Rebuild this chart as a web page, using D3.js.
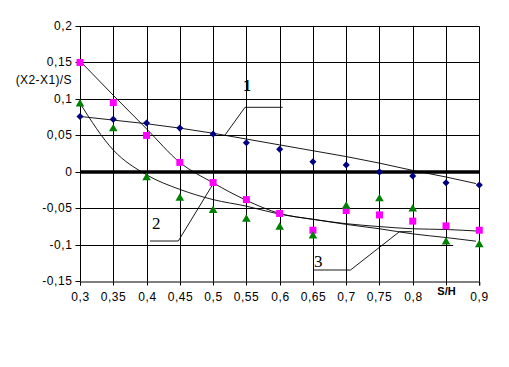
<!DOCTYPE html>
<html>
<head>
<meta charset="utf-8">
<script src="https://cdn.jsdelivr.net/npm/d3@7"></script>
<style>
  body { margin: 0; background: #fff; }
  svg { display: block; }
</style>
</head>
<body>
<svg width="509" height="367"></svg>
<script>
// S/H values
const xs = [0.3, 0.35, 0.4, 0.45, 0.5, 0.55, 0.6, 0.65, 0.7, 0.75, 0.8, 0.85, 0.9]
// measured points, (X2-X1)/S
const series1 = [0.076, 0.072, 0.067, 0.060, 0.052, 0.040, 0.031, 0.014, 0.0096, 0, -0.0055, -0.015, -0.018]
const series2 = [0.150, 0.095, 0.050, 0.013, -0.0146, -0.038, -0.057, -0.080, -0.053, -0.059, -0.0675, -0.074, -0.080]
const series3 = [0.093, 0.059, -0.008, -0.036, -0.053, -0.065, -0.076, -0.088, -0.047, -0.037, -0.051, -0.096, -0.100]
// trend curves
const trendX = [0.3, 0.35, 0.4, 0.45, 0.5, 0.55, 0.6, 0.65, 0.7, 0.75, 0.8, 0.85, 0.895]
const trend1 = [0.076, 0.071, 0.066, 0.060, 0.053, 0.045, 0.037, 0.029, 0.021, 0.012, 0.002, -0.007, -0.016]
const trend2 = [0.152, 0.105, 0.059, 0.013, -0.015, -0.039, -0.057, -0.065, -0.071, -0.075, -0.078, -0.079, -0.081]
const trend3 = [0.094, 0.030, -0.004, -0.024, -0.038, -0.047, -0.058, -0.065, -0.072, -0.078, -0.085, -0.090, -0.095]
const yTicks = [-0.15, -0.1, -0.05, 0, 0.05, 0.1, 0.15, 0.2]
const xTickLabels = ["0,3", "0,35", "0,4", "0,45", "0,5", "0,55", "0,6", "0,65", "0,7", "0,75", "0,8", "S/H", "0,9"]
const yTitle = "(X2-X1)/S"

const svg = d3.select("svg")
const x = d3.scaleLinear().domain([0.3, 0.9]).range([80, 479.3])
const y = d3.scaleLinear().domain([-0.15, 0.2]).range([281.3, 26])
const fmt = v => String(+v.toFixed(2)).replace(".", ",")
const snap = v => Math.round(v) + 0.5
const plotW = snap(x(0.9)) - snap(x(0.3))
const plotH = snap(y(-0.15)) - snap(y(0.2))

// grid drawn as long axis ticks
const gridX = svg.append("g").attr("transform", `translate(0,${snap(y(-0.15))})`)
    .call(d3.axisBottom(x).tickValues(xs.slice(1)).tickSize(-plotH).tickFormat(""))
const gridY = svg.append("g").attr("transform", `translate(${snap(x(0.3))},0)`)
    .call(d3.axisLeft(y).tickValues(yTicks.filter(d => d !== 0 && d !== -0.15)).tickSize(-plotW).tickFormat(""))
;[gridX, gridY].forEach(g => {
    g.select(".domain").remove()
    g.selectAll(".tick line").attr("stroke", "#000").attr("stroke-width", 1)
})
gridX.selectAll(".tick").attr("transform", d => `translate(${snap(x(d))},0)`)
gridY.selectAll(".tick").attr("transform", d => `translate(0,${snap(y(d))})`)
// the -0.1 rule stops short in the original
gridY.selectAll(".tick line").filter(d => d === -0.1).attr("x2", x(0.86) - x(0.3))

// axes
const axL = svg.append("g").attr("transform", `translate(${snap(x(0.3))},0)`)
    .call(d3.axisLeft(y).tickValues(yTicks).tickSize(5).tickFormat(fmt))
const axB = svg.append("g").attr("transform", `translate(0,${snap(y(-0.15))})`)
    .call(d3.axisBottom(x).tickValues(xs).tickSize(4).tickFormat((d, i) => xTickLabels[i]))
;[axL, axB].forEach(a => {
    a.select(".domain").attr("stroke", "#000")
    a.selectAll(".tick line").attr("stroke", "#000")
    a.selectAll("text").attr("fill", "#000").style("font-family", "Liberation Sans, Arial, sans-serif")
        .style("font-size", "12px").style("letter-spacing", "0.6px")
})
axL.select(".domain").attr("d", `M0,${y(-0.15)}V${y(0.2)}`)
axL.selectAll(".tick").attr("transform", d => `translate(0,${snap(y(d))})`)
axB.selectAll(".tick").attr("transform", d => `translate(${snap(x(d))},0)`)
axL.selectAll("text").attr("x", -8)
axB.selectAll("text").attr("y", 11)
axB.selectAll(".tick text").filter((d, i) => xTickLabels[i] === "S/H")
    .attr("y", 6).style("font-weight", "bold").style("font-size", "11px").style("letter-spacing", "0px")

// zero line
svg.append("path").attr("d", `M${x(0.3)},${y(0)}H${x(0.9)}`)
    .attr("fill", "none").attr("stroke", "#000").attr("stroke-width", 3.5)

svg.append("text").attr("x", 72).attr("y", 84).attr("text-anchor", "end")
    .style("font-family", "Liberation Sans, Arial, sans-serif").style("font-size", "12px")
    .style("letter-spacing", "0.4px").text(yTitle)

// trend curves
const curve = d3.line().x(d => x(d[0])).y(d => y(d[1])).curve(d3.curveMonotoneX)
;[trend1, trend2, trend3].forEach(t => {
    svg.append("path").datum(trendX.map((v, i) => [v, t[i]]))
        .attr("d", curve).attr("fill", "none").attr("stroke", "#000").attr("stroke-width", 0.9)
})

// curve labels with leaders
const leaders = svg.append("g").attr("fill", "none").attr("stroke", "#000").attr("stroke-width", 0.9)
leaders.append("path").attr("d", `M${x(0.5175)},${y(0.05)}L245,107.3H282.7`)
leaders.append("path").attr("d", `M150,241H178.3L${x(0.5)},${y(-0.0165)}`)
leaders.append("path").attr("d", `M313.3,270H350.5L${x(0.78)},${y(-0.082)}H412`)
const lab = (t, lx, ly, bold) => svg.append("text").attr("x", lx).attr("y", ly)
    .style("font-family", "Liberation Serif, Times New Roman, serif").style("font-size", bold ? "16px" : "17px")
    .style("font-weight", bold ? "bold" : "normal").text(t)
lab("1", 243, 91, true)
lab("2", 152, 229)
lab("3", 314, 267)

// markers
const markers = [
    { data: series1, sym: d3.symbolDiamond2, size: 32, color: "#000080" },
    { data: series2, sym: d3.symbolSquare, size: 49, color: "#ff00ff" },
    { data: series3, sym: d3.symbolTriangle, size: 32, color: "#008000" }
]
markers.forEach(m => {
    svg.append("g").selectAll("path").data(m.data).join("path")
        .attr("transform", (d, i) => `translate(${x(xs[i])},${y(d)})`)
        .attr("d", d3.symbol(m.sym, m.size)).attr("fill", m.color)
})
</script>
</body>
</html>
